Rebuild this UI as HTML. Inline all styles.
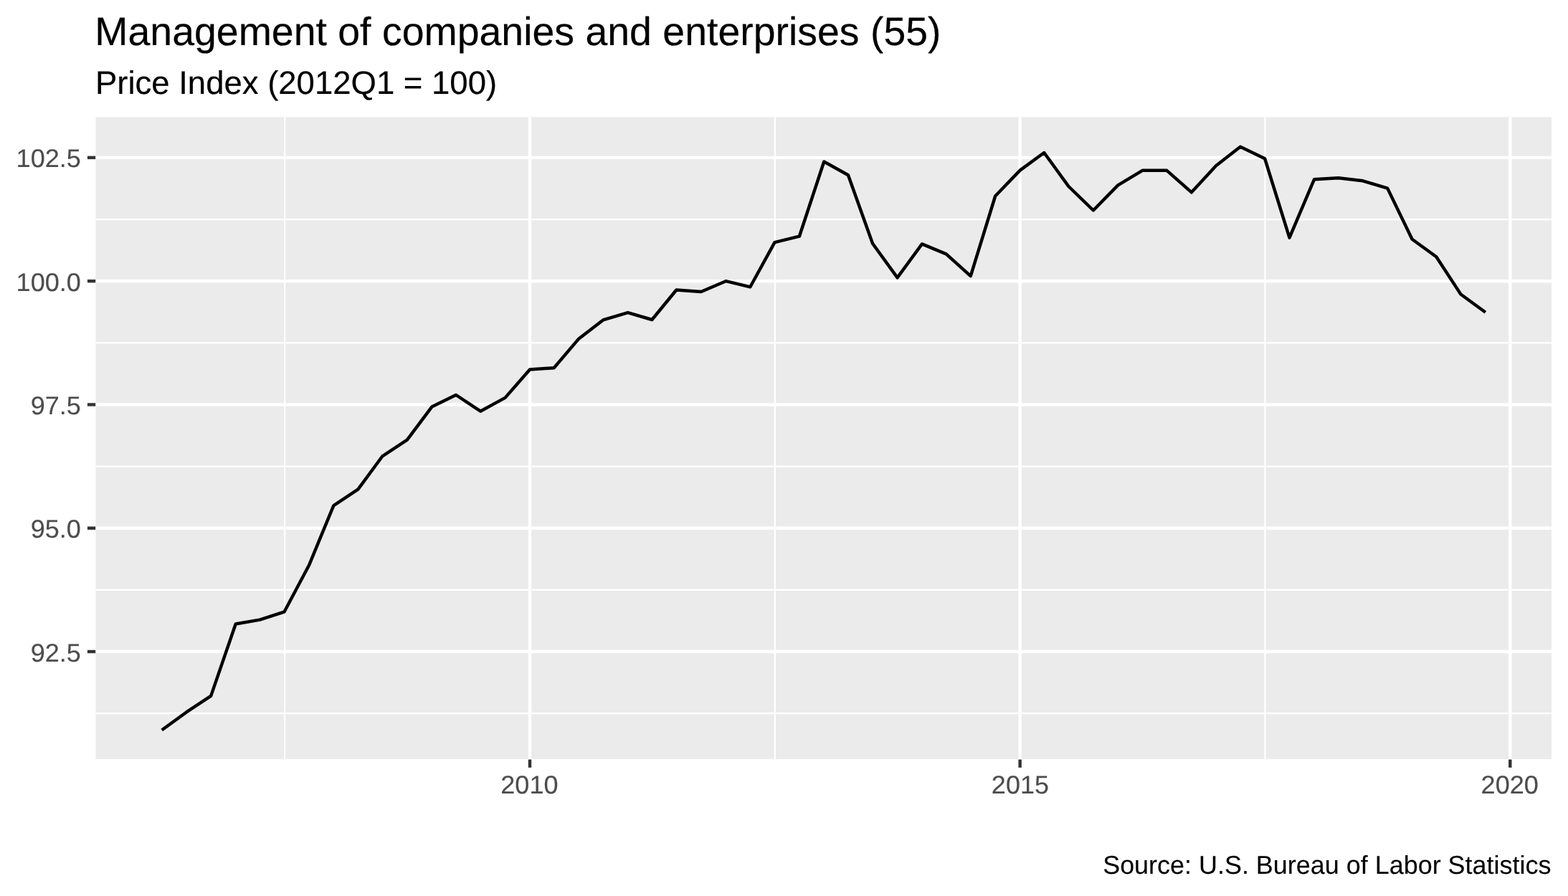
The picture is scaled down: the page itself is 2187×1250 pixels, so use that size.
<!DOCTYPE html>
<html lang="en">
<head>
<meta charset="utf-8">
<title>Management of companies and enterprises (55)</title>
<style>
html,body{margin:0;padding:0;background:#fff;}
body{width:2187px;height:1250px;}
svg{display:block;}
text{font-family:"Liberation Sans",sans-serif;white-space:pre;text-rendering:geometricPrecision;}
.ax{fill:#4d4d4d;stroke:#4d4d4d;stroke-width:0.15;stroke-linejoin:round;}
.tt{fill:#000;stroke:#000;stroke-width:0.2;stroke-linejoin:round;}
.tk{stroke:#333;stroke-width:4.45;fill:none;}
.gM{stroke:#fff;stroke-width:4.45;fill:none;}
.gm{stroke:#fff;stroke-width:2.22;fill:none;}
</style>
</head>
<body>
<svg width="2187" height="1250" viewBox="0 0 2187 1250">
<rect x="0" y="0" width="2187" height="1250" fill="#ffffff"/>
<rect x="133.5" y="163.5" width="2030.50" height="895.50" fill="#ebebeb"/>
<g class="gm">
<line x1="133.5" x2="2164.0" y1="306.02" y2="306.02"/>
<line x1="133.5" x2="2164.0" y1="478.32" y2="478.32"/>
<line x1="133.5" x2="2164.0" y1="650.62" y2="650.62"/>
<line x1="133.5" x2="2164.0" y1="822.92" y2="822.92"/>
<line x1="133.5" x2="2164.0" y1="995.22" y2="995.22"/>
<line x1="397.17" x2="397.17" y1="163.5" y2="1059.0"/>
<line x1="1080.83" x2="1080.83" y1="163.5" y2="1059.0"/>
<line x1="1764.48" x2="1764.48" y1="163.5" y2="1059.0"/>
</g>
<g class="gM">
<line x1="133.5" x2="2164.0" y1="219.87" y2="219.87"/>
<line x1="133.5" x2="2164.0" y1="392.17" y2="392.17"/>
<line x1="133.5" x2="2164.0" y1="564.47" y2="564.47"/>
<line x1="133.5" x2="2164.0" y1="736.77" y2="736.77"/>
<line x1="133.5" x2="2164.0" y1="909.07" y2="909.07"/>
<line x1="739.0" x2="739.0" y1="163.5" y2="1059.0"/>
<line x1="1422.65" x2="1422.65" y1="163.5" y2="1059.0"/>
<line x1="2106.3" x2="2106.3" y1="163.5" y2="1059.0"/>
</g>
<polyline points="225.7,1018.5 259.8,993.7 294.2,970.9 328.7,870.5 362.4,864.6 396.4,853.7 430.9,788.8 465.3,705.3 499.4,682.6 533.5,636.3 567.9,613.7 602.3,567.6 636.0,551.0 670.1,573.7 704.6,554.9 739.0,515.5 772.7,513.2 806.8,473.1 841.2,446.4 875.7,436.2 909.4,446.0 943.4,404.5 977.9,407.0 1012.3,392.2 1046.4,400.3 1080.5,338.1 1114.9,329.7 1149.3,225.5 1183.0,244.3 1217.1,339.8 1251.6,387.4 1286.0,340.4 1319.7,354.4 1353.8,385.1 1388.2,273.5 1422.7,237.6 1456.3,213.0 1490.4,260.0 1524.9,293.5 1559.3,258.4 1593.4,237.8 1627.4,237.8 1661.9,268.3 1696.3,230.9 1730.0,204.8 1764.1,221.2 1798.5,331.6 1833.0,250.3 1866.7,248.2 1900.8,252.3 1935.2,262.6 1969.6,333.7 2003.3,358.3 2037.4,410.5 2071.9,435.7" fill="none" stroke="#000" stroke-width="4.45" stroke-linejoin="round" stroke-linecap="butt"/>
<g class="tk">
<line x1="121.95" x2="133.2" y1="219.87" y2="219.87"/>
<line x1="121.95" x2="133.2" y1="392.17" y2="392.17"/>
<line x1="121.95" x2="133.2" y1="564.47" y2="564.47"/>
<line x1="121.95" x2="133.2" y1="736.77" y2="736.77"/>
<line x1="121.95" x2="133.2" y1="909.07" y2="909.07"/>
<line x1="739.0" x2="739.0" y1="1059.6" y2="1070.86"/>
<line x1="1422.65" x2="1422.65" y1="1059.6" y2="1070.86"/>
<line x1="2106.3" x2="2106.3" y1="1059.6" y2="1070.86"/>
</g>
<g class="ax" font-size="36.1">
<text transform="translate(112.9,233) scale(1,0.985)" text-anchor="end">102.5</text>
<text transform="translate(112.9,406) scale(1,0.985)" text-anchor="end">100.0</text>
<text transform="translate(112.9,578) scale(1,0.985)" text-anchor="end">97.5</text>
<text transform="translate(112.9,750) scale(1,0.985)" text-anchor="end">95.0</text>
<text transform="translate(112.9,923) scale(1,0.985)" text-anchor="end">92.5</text>
<text transform="translate(738.40,1107.0) scale(1,0.985)" text-anchor="middle">2010</text>
<text transform="translate(1422.95,1107.0) scale(1,0.985)" text-anchor="middle">2015</text>
<text transform="translate(2105.70,1107.0) scale(1,0.985)" text-anchor="middle">2020</text>
</g>
<text x="132.3" y="63.0" font-size="55.45" class="tt">Management of companies and enterprises (55)</text>
<text x="132.9" y="131.0" font-size="45.5" class="tt">Price Index (2012Q1 = 100)</text>
<text x="2163.4" y="1219.0" font-size="35.95" class="tt" style="stroke-width:0.1" text-anchor="end">Source: U.S. Bureau of Labor Statistics</text>
</svg>
</body>
</html>
